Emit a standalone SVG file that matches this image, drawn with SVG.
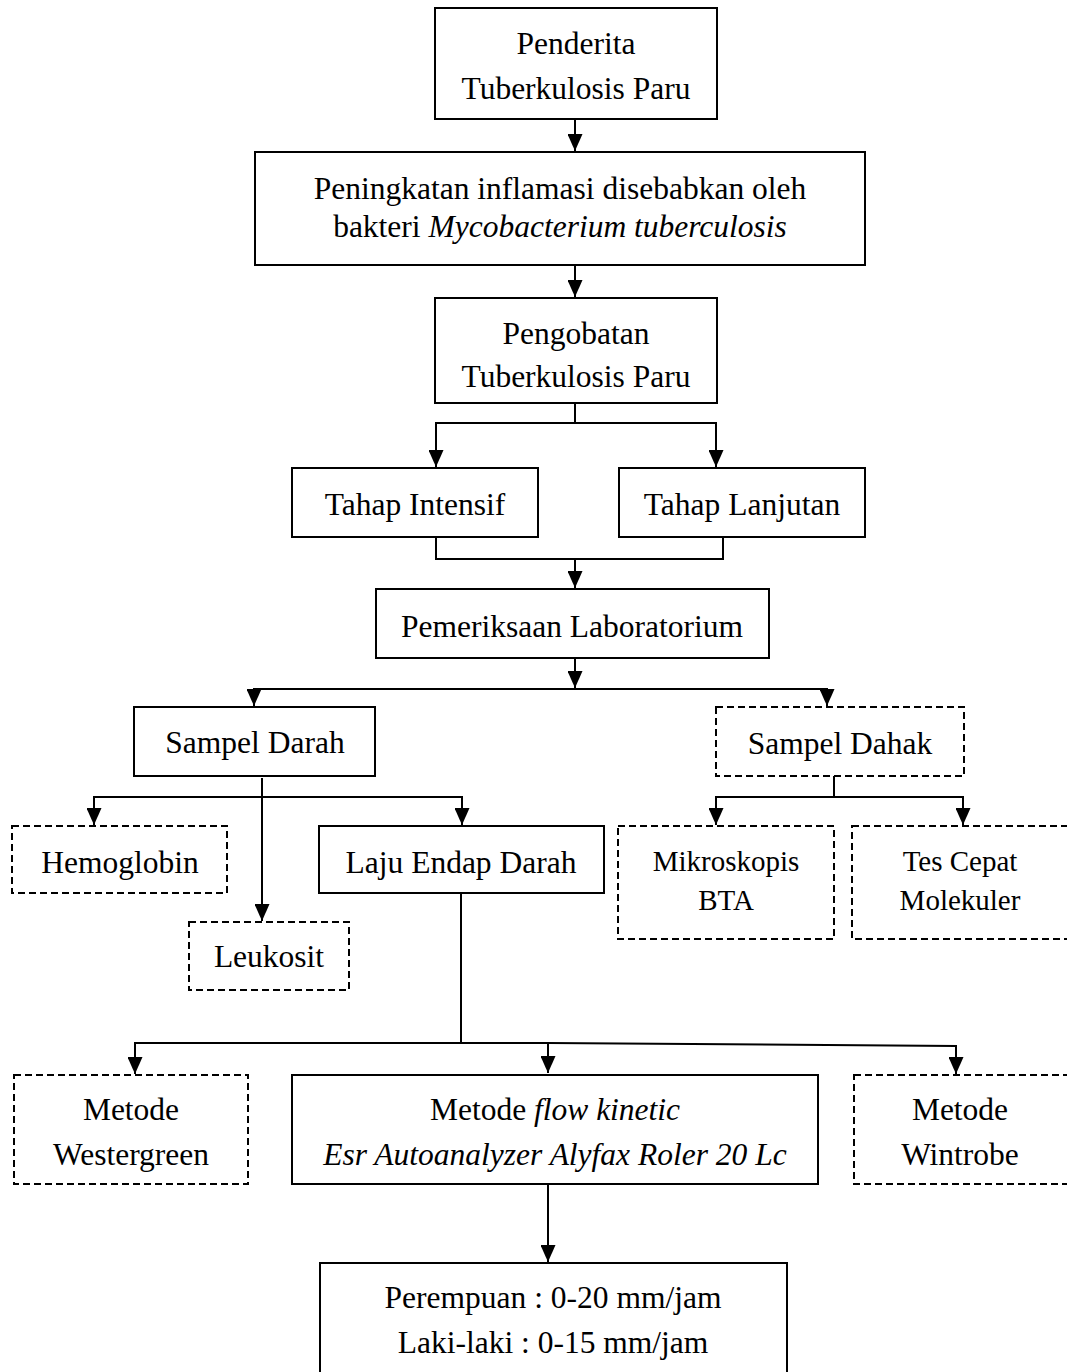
<svg xmlns="http://www.w3.org/2000/svg" width="1067" height="1372" viewBox="0 0 1067 1372">
<style>
.bx{fill:#fff;stroke:#000;stroke-width:2}
.dx{fill:#fff;stroke:#000;stroke-width:2;stroke-dasharray:7 4}
text{font-family:"Liberation Serif","Times New Roman",serif;font-size:31.5px;fill:#000;text-anchor:middle}
.sm{font-size:29px}
.it{font-style:italic}
.cn{fill:none;stroke:#000;stroke-width:2}
</style>
<defs>
<marker id="ar" markerUnits="userSpaceOnUse" markerWidth="18" markerHeight="15" viewBox="0 0 18 15" refX="17" refY="7.5" orient="auto">
<path d="M0,0 L17,7.5 L0,15 z" fill="#000"/>
</marker>
</defs>
<g id="connectors">
<path class="cn" d="M575,119 V151" marker-end="url(#ar)"/>
<path class="cn" d="M575,265 V297" marker-end="url(#ar)"/>
<path class="cn" d="M575,403 V423 H436 V467" marker-end="url(#ar)"/>
<path class="cn" d="M575,423 H716 V467" marker-end="url(#ar)"/>
<path class="cn" d="M436,537 V559 H723 V537"/>
<path class="cn" d="M575,559 V588" marker-end="url(#ar)"/>
<path class="cn" d="M575,658 V688" marker-end="url(#ar)"/>
<path class="cn" d="M254,706 V689 H827 V706" marker-end="url(#ar)"/>
<path class="cn" d="M254,689 V706" marker-end="url(#ar)"/>
<path class="cn" d="M262,778 V921" marker-end="url(#ar)"/>
<path class="cn" d="M94,825 V797 H462 V825" marker-end="url(#ar)"/>
<path class="cn" d="M94,797 V825" marker-end="url(#ar)"/>
<path class="cn" d="M834,776 V797"/>
<path class="cn" d="M716,825 V797 H963 V825" marker-end="url(#ar)"/>
<path class="cn" d="M716,797 V825" marker-end="url(#ar)"/>
<path class="cn" d="M461,893 V1043"/>
<path class="cn" d="M135,1074 V1043 H548 L956,1046 V1074" marker-end="url(#ar)"/>
<path class="cn" d="M135,1043 V1074" marker-end="url(#ar)"/>
<path class="cn" d="M548,1043 V1073" marker-end="url(#ar)"/>
<path class="cn" d="M548,1184 V1262" marker-end="url(#ar)"/>
</g>
<g id="n1"><rect class="bx" x="435" y="8" width="282" height="111"/><text x="576" y="54">Penderita</text><text x="576" y="99">Tuberkulosis Paru</text></g>
<g id="n2"><rect class="bx" x="255" y="152" width="610" height="113"/><text x="560" y="199">Peningkatan inflamasi disebabkan oleh</text><text x="560" y="237">bakteri <tspan class="it">Mycobacterium tuberculosis</tspan></text></g>
<g id="n3"><rect class="bx" x="435" y="298" width="282" height="105"/><text x="576" y="344">Pengobatan</text><text x="576" y="387">Tuberkulosis Paru</text></g>
<g id="n4"><rect class="bx" x="292" y="468" width="246" height="69"/><text x="415" y="515">Tahap Intensif</text></g>
<g id="n5"><rect class="bx" x="619" y="468" width="246" height="69"/><text x="742" y="515">Tahap Lanjutan</text></g>
<g id="n6"><rect class="bx" x="376" y="589" width="393" height="69"/><text x="572" y="637">Pemeriksaan Laboratorium</text></g>
<g id="n7"><rect class="bx" x="134" y="707" width="241" height="69"/><text x="255" y="753">Sampel Darah</text></g>
<g id="n8"><rect class="dx" x="716" y="707" width="248" height="69"/><text x="840" y="754">Sampel Dahak</text></g>
<g id="n9"><rect class="dx" x="12" y="826" width="215" height="67"/><text x="120" y="873">Hemoglobin</text></g>
<g id="n10"><rect class="bx" x="319" y="826" width="285" height="67"/><text x="461" y="873">Laju Endap Darah</text></g>
<g id="n11"><rect class="dx" x="189" y="922" width="160" height="68"/><text x="269" y="967">Leukosit</text></g>
<g id="n12"><rect class="dx" x="618" y="826" width="216" height="113"/><text class="sm" x="726" y="871">Mikroskopis</text><text class="sm" x="726" y="910">BTA</text></g>
<g id="n13"><rect class="dx" x="852" y="826" width="218" height="113"/><text class="sm" x="960" y="871">Tes Cepat</text><text class="sm" x="960" y="910">Molekuler</text></g>
<g id="n14"><rect class="dx" x="14" y="1075" width="234" height="109"/><text x="131" y="1120">Metode</text><text x="131" y="1165">Westergreen</text></g>
<g id="n15"><rect class="bx" x="292" y="1075" width="526" height="109"/><text x="555" y="1120">Metode <tspan class="it">flow kinetic</tspan></text><text class="it" x="555" y="1165">Esr Autoanalyzer Alyfax Roler 20 Lc</text></g>
<g id="n16"><rect class="dx" x="854" y="1075" width="218" height="109"/><text x="960" y="1120">Metode</text><text x="960" y="1165">Wintrobe</text></g>
<g id="n17"><rect class="bx" x="320" y="1263" width="467" height="120"/><text x="553" y="1308">Perempuan : 0-20 mm/jam</text><text x="553" y="1353">Laki-laki : 0-15 mm/jam</text></g>
</svg>
